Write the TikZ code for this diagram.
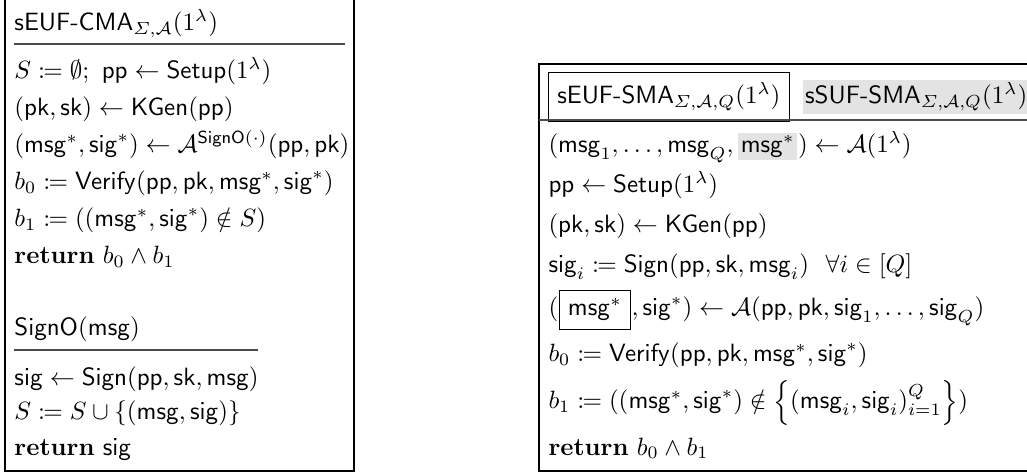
\documentclass[tikz,border=0pt]{standalone}
\usepackage{amsmath,amssymb,mathtools}
\usetikzlibrary{positioning}
\newcommand{\alg}[1]{\mathsf{#1}}
\newcommand{\Pp}{\mathsf{pp}}
\newcommand{\Pk}{\mathsf{pk}}
\newcommand{\Sk}{\mathsf{sk}}
\newcommand{\Msg}{\mathsf{msg}}
\newcommand{\Sig}{\mathsf{sig}}
\newcommand{\Ret}{\textbf{return}}
\begin{document}
\begin{tikzpicture}[x=0.4pt, y=-0.4pt]
  \tikzstyle{row}=[anchor=base west, inner sep=0pt]
  \tikzstyle{rule}=[black!70, line width=0.6pt]
  \tikzstyle{frame}=[black, line width=0.6pt]
  \tikzstyle{shade}=[fill=black!11, inner sep=1pt]
  \useasboundingbox (0,0) rectangle (1027,472);
  \clip (0,0) rectangle (1027,472);
  % left game: sEUF-CMA
  \draw[frame] (5,-10) -- (5,471) -- (354,471) -- (354,-10);
  \node[row] (cma) at (14,31) {$\textsf{sEUF-CMA}_{\varSigma,\mathcal{A}}(1^\lambda)$};
  \draw[rule] (14,44) -- (345,44);
  \node[row] (l1) at (14,79) {$S \coloneqq \emptyset;\ \Pp \gets \alg{Setup}(1^\lambda)$};
  \node[row] (l2) at (14,116) {$(\Pk,\Sk) \gets \alg{KGen}(\Pp)$};
  \node[row] (l3) at (14,153) {$(\Msg^*,\Sig^*) \gets \mathcal{A}^{\alg{SignO}(\cdot)}(\Pp,\Pk)$};
  \node[row] (l4) at (14,190) {$b_0 \coloneqq \alg{Verify}(\Pp,\Pk,\Msg^*,\Sig^*)$};
  \node[row] (l5) at (14,227) {$b_1 \coloneqq ((\Msg^*,\Sig^*) \notin S)$};
  \node[row] (l6) at (14,264) {\Ret\ $b_0 \land b_1$};
  % oracle
  \node[row] (orc) at (14,336) {$\alg{SignO}(\Msg)$};
  \draw[rule] (14,350) -- (258,350);
  \node[row] (o1) at (14,386) {$\Sig \gets \alg{Sign}(\Pp,\Sk,\Msg)$};
  \node[row] (o2) at (14,420) {$S \coloneqq S \cup \{(\Msg,\Sig)\}$};
  \node[row] (o3) at (14,455) {\Ret\ $\Sig$};
  % right game: sEUF-SMA / sSUF-SMA
  \draw[frame] (1040,64) -- (539,64) -- (539,471) -- (1040,471);
  \node[row, draw, inner xsep=3.5pt, inner ysep=4pt] (euf) at (548,104)
    {$\textsf{sEUF-SMA}_{\varSigma,\mathcal{A},Q}(1^\lambda)$};
  \node[row, shade, right=5pt of euf.base east, anchor=base west] (suf)
    {$\textsf{sSUF-SMA}_{\varSigma,\mathcal{A},Q}(1^\lambda)$};
  \draw[rule] (539,120) -- (1040,120);
  \node[row] (r1) at (548,153) {$(\Msg_1,\ldots,\Msg_Q,$};
  \node[row, shade, right=1.5pt of r1.base east, anchor=base west] (r1s) {$\Msg^*$};
  \node[row, right=0pt of r1s.base east, anchor=base west] (r1e) {$) \gets \mathcal{A}(1^\lambda)$};
  \node[row] (r2) at (548,193) {$\Pp \gets \alg{Setup}(1^\lambda)$};
  \node[row] (r3) at (548,233) {$(\Pk,\Sk) \gets \alg{KGen}(\Pp)$};
  \node[row] (r4) at (548,273) {$\Sig_i \coloneqq \alg{Sign}(\Pp,\Sk,\Msg_i)\ \ \forall i \in [Q]$};
  \node[row] (r5) at (548,316) {$($};
  \node[row, draw, inner sep=3.5pt, right=0pt of r5.base east, anchor=base west] (r5b) {$\Msg^*$};
  \node[row, right=0pt of r5b.base east, anchor=base west] (r5e)
    {$,\Sig^*) \gets \mathcal{A}(\Pp,\Pk,\Sig_1,\ldots,\Sig_Q)$};
  \node[row] (r6) at (548,362) {$b_0 \coloneqq \alg{Verify}(\Pp,\Pk,\Msg^*,\Sig^*)$};
  \node[row] (r7) at (548,409) {$b_1 \coloneqq ((\Msg^*,\Sig^*) \notin \Big\{(\Msg_i,\Sig_i)_{i=1}^{Q}\Big\})$};
  \node[row] (r8) at (548,455) {\Ret\ $b_0 \land b_1$};
\end{tikzpicture}
\end{document}
